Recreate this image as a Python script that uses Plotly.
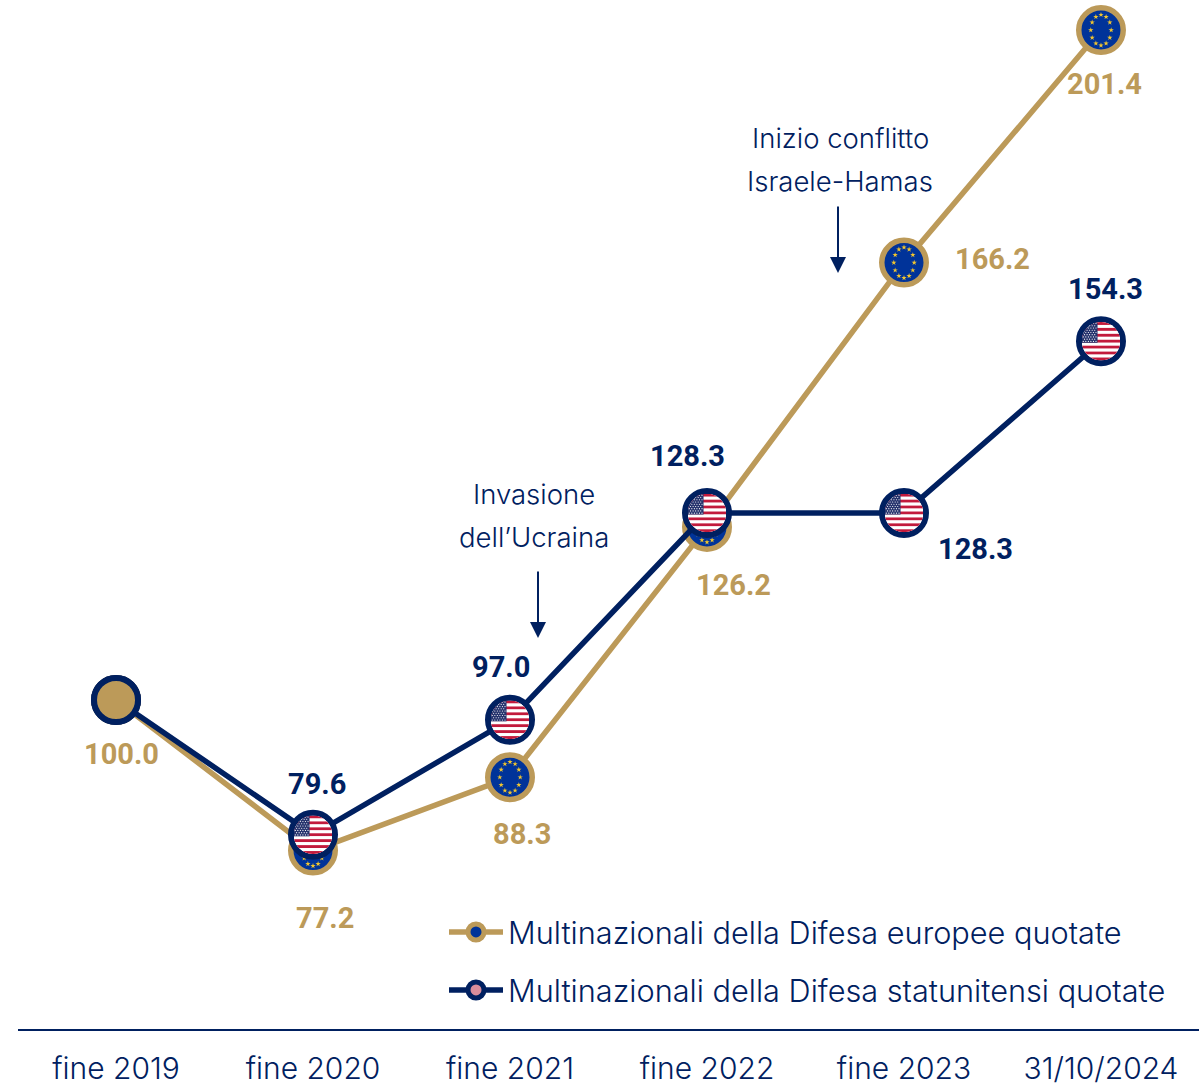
import base64
import math
import plotly.graph_objects as go

categories = ["fine 2019", "fine 2020", "fine 2021", "fine 2022", "fine 2023", "31/10/2024"]
europe_values = [100.0, 77.2, 88.3, 126.2, 166.2, 201.4]
usa_values = [100.0, 79.6, 97.0, 128.3, 128.3, 154.3]
europe_name = "Multinazionali della Difesa europee quotate"
usa_name = "Multinazionali della Difesa statunitensi quotate"

GOLD = "#BC9A59"
NAVY = "#002060"
EU_BLUE = "#003399"
EU_STAR = "#F2C62E"
W, H = 1199, 1087
X_RANGE = [-0.4975, 5.4975]
Y_RANGE = [50.2, 205.95]
PX_X = 197.0
PX_Y = 6.607
TEXT_FONT = "Inter"
NUM_FONT = "Roboto"


def us_flag():
    stripes = ""
    h = 100 / 13
    for i in range(13):
        c = "#C21A3C" if i % 2 == 0 else "#FFFFFF"
        stripes += f'<rect x="0" y="{i*h:.2f}" width="100" height="{h+0.1:.2f}" fill="{c}"/>'
    canton = '<rect x="0" y="0" width="41" height="54" fill="#27346E"/>'
    dots = ""
    for r in range(9):
        n = 6 if r % 2 == 0 else 5
        for k in range(n):
            cx = 4 + k * 6.6 + (0 if r % 2 == 0 else 3.3)
            cy = 4 + r * 5.8
            dots += f'<circle cx="{cx:.1f}" cy="{cy:.1f}" r="1.5" fill="#FFFFFF"/>'
    svg = (
        '<svg xmlns="http://www.w3.org/2000/svg" viewBox="0 0 100 100" width="200" height="200">'
        '<defs><clipPath id="c"><circle cx="50" cy="50" r="50"/></clipPath></defs>'
        f'<g clip-path="url(#c)"><rect width="100" height="100" fill="#FFFFFF"/>{stripes}{canton}{dots}</g></svg>'
    )
    return "data:image/svg+xml;base64," + base64.b64encode(svg.encode()).decode()


FLAG = us_flag()
xs = list(range(len(categories)))

star_x, star_y = [], []
for i, v in zip(xs[1:], europe_values[1:]):
    for k in range(12):
        a = 2 * math.pi * k / 12
        star_x.append(i + 10.2 * math.sin(a) / PX_X)
        star_y.append(v + 15.3 * math.cos(a) / PX_Y)

fig = go.Figure()
fig.add_trace(go.Scatter(
    x=xs, y=europe_values, name=europe_name, mode="lines+markers", cliponaxis=False, legend="legend",
    line=dict(color=GOLD, width=5.5),
    marker=dict(size=44.5, color=EU_BLUE, line=dict(color=GOLD, width=5.5)),
    hoverinfo="skip",
))
fig.add_trace(go.Scatter(
    x=star_x, y=star_y, mode="markers", showlegend=False, cliponaxis=False,
    marker=dict(symbol="star", size=4, color=EU_STAR), hoverinfo="skip",
))
fig.add_trace(go.Scatter(
    x=xs, y=usa_values, name=usa_name, mode="lines+markers", cliponaxis=False, legend="legend2",
    line=dict(color=NAVY, width=5.5),
    marker=dict(size=44, color="#D98D9C", line=dict(color=NAVY, width=6)),
    hoverinfo="skip",
))
fig.add_trace(go.Scatter(
    x=xs[:1], y=usa_values[:1], mode="markers", showlegend=False, cliponaxis=False,
    marker=dict(size=44, color=GOLD, line=dict(color=NAVY, width=6)),
    hoverinfo="skip",
))

images = []
for i, v in zip(xs[1:], usa_values[1:]):
    images.append(dict(source=FLAG, xref="x", yref="y", x=i, y=v, xanchor="center", yanchor="middle",
                       sizex=38.5 / PX_X, sizey=38.5 / PX_Y, sizing="stretch", layer="above"))

annotations = []
euro_offsets = [(5, 54), (12, 67), (12, 57), (26, 58), (88, -4), (4, 54)]
for i, v, (dx, dy) in zip(xs, europe_values, euro_offsets):
    annotations.append(dict(x=i, y=v, xref="x", yref="y", text=f"<b>{v:.1f}</b>", showarrow=False,
                            xshift=dx, yshift=-dy, font=dict(family=NUM_FONT, size=29, color=GOLD)))
usa_offsets = [None, (4, -51), (-9, -53), (-20, -57), (71, 36), (5, -52)]
for i, v, off in zip(xs, usa_values, usa_offsets):
    if off is None:
        continue
    annotations.append(dict(x=i, y=v, xref="x", yref="y", text=f"<b>{v:.1f}</b>", showarrow=False,
                            xshift=off[0], yshift=-off[1], font=dict(family=NUM_FONT, size=29, color=NAVY)))


def note(lines, px, py0):
    for n, line in enumerate(lines):
        annotations.append(dict(x=px / W, y=1 - (py0 + 43 * n) / 1029, xref="paper", yref="paper", text=line,
                                xanchor="center", yanchor="middle", showarrow=False,
                                font=dict(family=TEXT_FONT, size=27.5, weight=300, color=NAVY)))


def arrow(px, top, bottom):
    annotations.append(dict(x=(px - 116) / PX_X, y=100 + (700 - bottom) / PX_Y, xref="x", yref="y", text="",
                            showarrow=True, ax=0, ay=-(bottom - top), arrowhead=2, arrowsize=1.6,
                            arrowwidth=2, arrowcolor=NAVY))


note(["Invasione", "dell’Ucraina"], 534, 494)
note(["Inizio conflitto", "Israele-Hamas"], 840, 138)
arrow(538, 570, 638)
arrow(838, 205, 273)

legend_common = dict(xanchor="left", yanchor="middle", itemwidth=54, bgcolor="rgba(0,0,0,0)",
                     font=dict(family=TEXT_FONT, size=30.7, weight=300, color=NAVY), x=444 / W)

fig.update_layout(
    width=W, height=H,
    margin=dict(l=0, r=0, t=0, b=58, pad=0),
    paper_bgcolor="#FFFFFF", plot_bgcolor="#FFFFFF",
    showlegend=True,
    legend=dict(y=1 - 932 / 1029, **legend_common),
    legend2=dict(y=1 - 990 / 1029, **legend_common),
    xaxis=dict(domain=[18 / W, 1], range=X_RANGE, tickvals=xs, ticktext=categories, showgrid=False,
               zeroline=False, showline=True, linecolor=NAVY, linewidth=2, ticks="", automargin=False,
               ticklabelstandoff=12, tickfont=dict(family=TEXT_FONT, size=30, weight=300, color=NAVY)),
    yaxis=dict(range=Y_RANGE, visible=False, automargin=False),
    images=images,
    annotations=annotations,
)
fig.write_html("out.html", config=dict(displayModeBar=False), post_script="document.body.style.margin='0';")
